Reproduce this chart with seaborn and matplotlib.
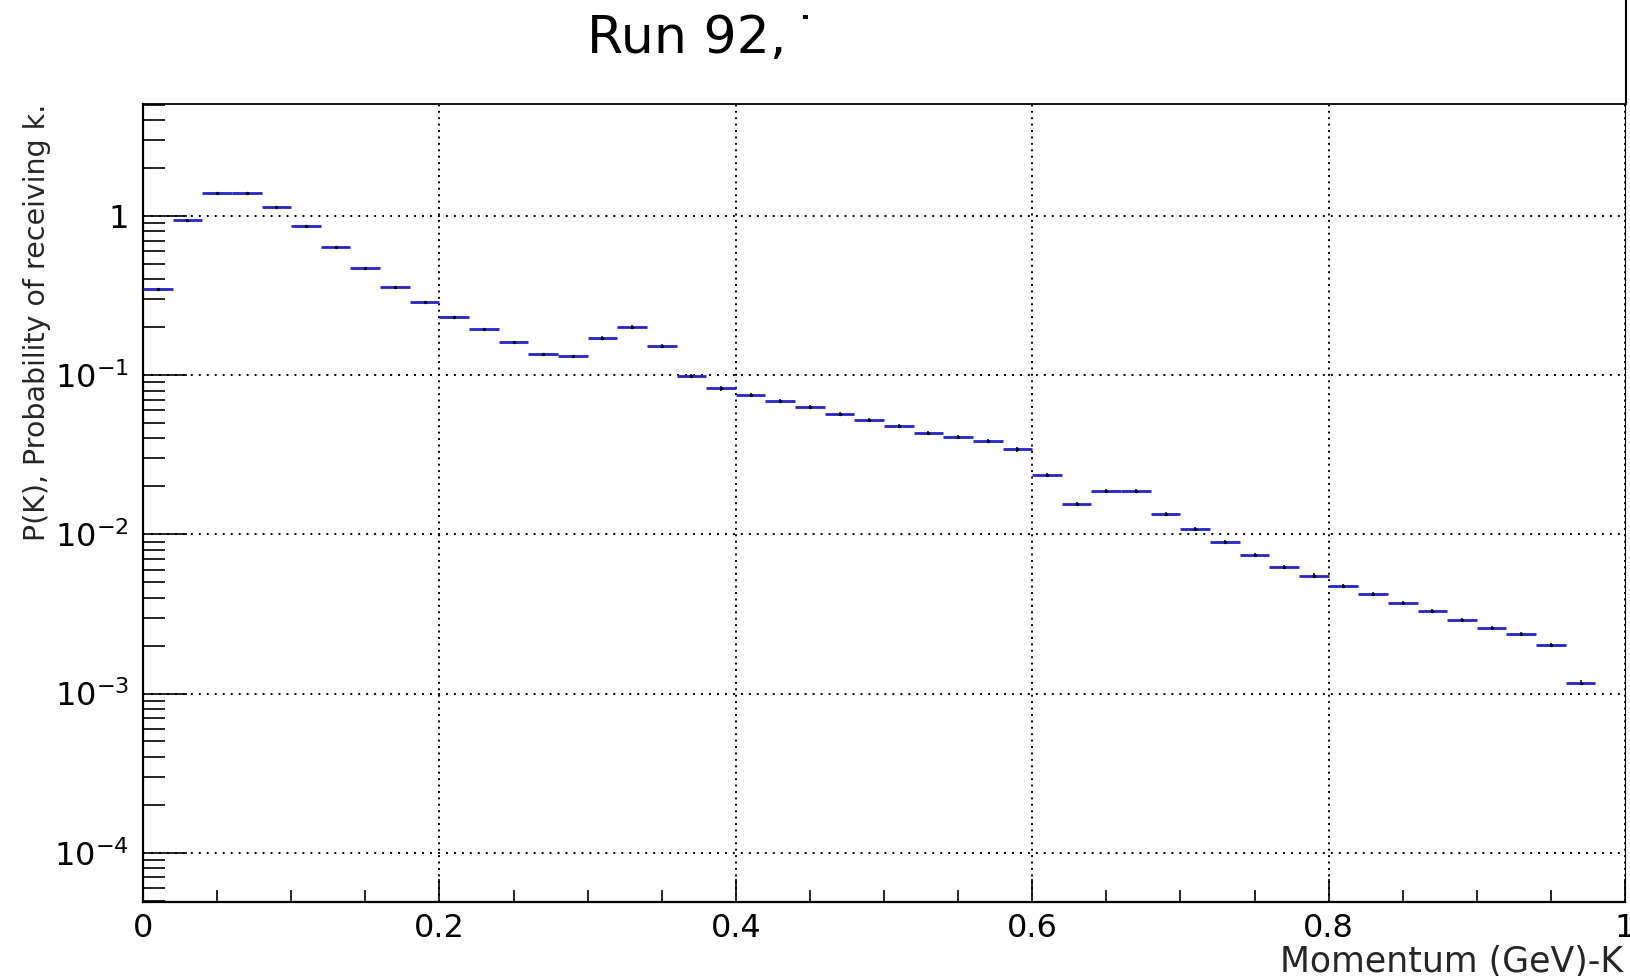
import numpy as np
import pandas as pd
import matplotlib
matplotlib.use("Agg")
import matplotlib.pyplot as plt
import seaborn as sns
from matplotlib.ticker import FixedLocator, FixedFormatter, LogLocator, NullFormatter, MultipleLocator
from matplotlib.lines import Line2D
from matplotlib.transforms import Bbox

# Kaon momentum spectrum: 50 bins of 0.02 GeV between 0 and 1 GeV
bin_width = 0.02
bin_low = np.round(np.arange(50) * bin_width, 2)

prob = [0.346, 0.944, 1.40, 1.40, 1.134, 0.861, 0.636, 0.469, 0.358, 0.288,
        0.233, 0.194, 0.162, 0.135, 0.131, 0.172, 0.200, 0.153, 0.0993, 0.0827,
        0.0755, 0.0689, 0.0629, 0.0573, 0.0523, 0.0478, 0.0435, 0.0409, 0.0386, 0.0342,
        0.0237, 0.0155, 0.0187, 0.0187, 0.01337, 0.01076, 0.00896, 0.00746, 0.00624, 0.00551,
        0.00474, 0.00421, 0.00371, 0.00329, 0.00291, 0.00258, 0.00236, 0.00203, 0.00117, 0.0]

prob_err = [0.004, 0.008, 0.010, 0.010, 0.009, 0.007, 0.006, 0.005, 0.004, 0.004,
            0.003, 0.003, 0.003, 0.003, 0.003, 0.004, 0.006, 0.004, 0.003, 0.003,
            0.002, 0.002, 0.0018, 0.0017, 0.0015, 0.0014, 0.0013, 0.0012, 0.0011, 0.0011,
            0.0006, 0.0004, 0.0005, 0.0005, 0.0004, 0.0003, 0.0003, 0.00022, 0.0002, 0.00017,
            0.00015, 0.00013, 0.00011, 0.0001, 0.00009, 0.00008, 0.00007, 0.00006, 0.00004, 0.0]

x_ticks = [0.0, 0.2, 0.4, 0.6, 0.8, 1.0]
x_tick_labels = ["0", "0.2", "0.4", "0.6", "0.8", "1"]
y_ticks = [1e-4, 1e-3, 1e-2, 1e-1, 1.0]
y_tick_labels = [r"$10^{-4}$", r"$10^{-3}$", r"$10^{-2}$", r"$10^{-1}$", "1"]

title_text = "Run 92, T"
x_label = "Momentum (GeV)-K"
y_label = "P(K), Probability of receiving k."

hist = pd.DataFrame({"low": bin_low, "p": prob, "err": prob_err})
hist["center"] = hist["low"] + bin_width / 2
filled = hist[hist["p"] > 0]

sns.set_theme(style="ticks")
plt.rcParams["font.family"] = ["DejaVu Sans"]
plt.rcParams["mathtext.fontset"] = "dejavusans"

W, H = 1630, 976
fig = plt.figure(figsize=(W / 100, H / 100), dpi=100)
fig.patch.set_facecolor("white")

left, right, top, bottom = 143, 1625, 104, 902
ax = fig.add_axes([left / W, 1 - bottom / H, (right - left) / W, (bottom - top) / H])
ax.set_facecolor("white")

line_blue = "#2424c8"

# bin contents as horizontal segments, statistical errors as vertical ticks
ax.errorbar(filled["center"], filled["p"], xerr=bin_width / 2, fmt="none",
            ecolor=line_blue, elinewidth=2.0, capsize=0, zorder=3)
ax.errorbar(filled["center"], filled["p"], yerr=filled["err"], fmt="none",
            ecolor="black", elinewidth=1.1, capsize=0, zorder=4)
sns.scatterplot(data=filled, x="center", y="p", color="black", s=6,
                linewidth=0, marker="o", ax=ax, legend=False, zorder=5)

ax.set_yscale("log")
ax.set_xlim(0, 1)
ax.set_ylim(4.9e-5, 5.05)

ax.xaxis.set_major_locator(FixedLocator(x_ticks))
ax.xaxis.set_major_formatter(FixedFormatter(x_tick_labels))
ax.xaxis.set_minor_locator(MultipleLocator(0.05))
ax.yaxis.set_major_locator(FixedLocator(y_ticks))
ax.yaxis.set_major_formatter(FixedFormatter(y_tick_labels))
ax.yaxis.set_minor_locator(LogLocator(base=10, subs=np.arange(2, 10)))
ax.yaxis.set_minor_formatter(NullFormatter())

ax.tick_params(axis="both", which="both", direction="in", colors="black",
               top=False, right=False, labelsize=23)
ax.tick_params(axis="y", which="major", length=32, width=1.2, pad=10)
ax.tick_params(axis="y", which="minor", length=16, width=1.2)
ax.tick_params(axis="x", which="major", length=16.5, width=1.2, pad=8)
ax.tick_params(axis="x", which="minor", length=9, width=1.2)

# dotted grid at the major ticks
ax.xaxis.grid(True, which="major", color="black", linewidth=1.4, linestyle=(0, (1, 2.3)))
ax.yaxis.grid(True, which="major", color="black", linewidth=1.4, linestyle=(0, (1, 3.1)))
ax.set_axisbelow(False)

for side in ("left", "bottom"):
    ax.spines[side].set_linewidth(1.6)
    ax.spines[side].set_color("black")
ax.spines["top"].set_linewidth(1.3)
ax.spines["top"].set_color("black")
ax.spines["right"].set_linewidth(0.8)
ax.spines["right"].set_color("black")
for sp in ax.spines.values():
    sp.set_visible(True)

ax.set_xlabel(x_label, fontsize=25, loc="right")
ax.xaxis.set_label_coords((1623 - left) / (right - left), -(962 - bottom) / (bottom - top))
ax.xaxis.label.set_va("center")

ax.set_ylabel(y_label, fontsize=20.5, loc="top")
ax.yaxis.set_label_coords((37 - left) / (right - left), 1.0)
ax.yaxis.label.set_va("center")

# title pave, clipped just after the start of its last letter
title_x, title_base, title_size = 587, 53, 37.5
renderer = fig.canvas.get_renderer()
probe = fig.text(title_x / W, 1 - title_base / H, title_text[:-1], fontsize=title_size)
prefix_w = probe.get_window_extent(renderer).width
probe.remove()
t = fig.text(title_x / W, 1 - title_base / H, title_text, fontsize=title_size,
             color="black", ha="left", va="baseline")
t.set_clip_box(Bbox.from_extents(0, 0, title_x + prefix_w + 5, H))
t.set_clip_on(True)
fig.add_artist(Line2D([1626 / W, 1626 / W], [1 - top / H, 1.0], transform=fig.transFigure,
                      color="black", linewidth=1.5))

fig.savefig("out.png", dpi=100, facecolor="white")
